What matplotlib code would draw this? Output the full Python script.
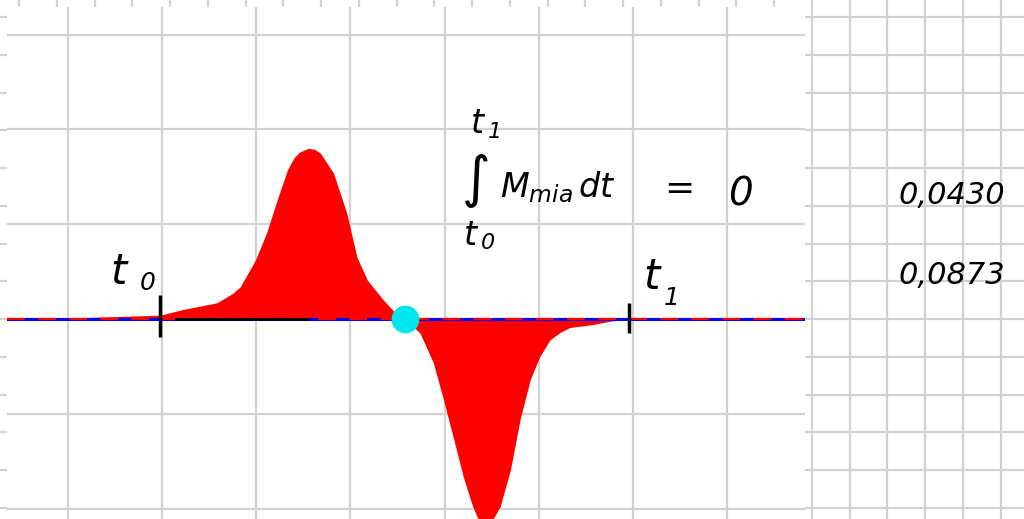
import matplotlib.pyplot as plt

# red series (x and y in chart grid units)
t = [-0.65, 0.0, 0.98, 1.22, 1.58, 1.75, 1.83, 1.99, 2.11, 2.22, 2.33, 2.40, 2.46, 2.55, 2.62,
     2.68, 2.82, 2.96, 3.07, 3.18, 3.35, 3.50, 3.58, 3.74, 3.88, 3.98, 4.09, 4.20, 4.30, 4.36,
     4.43, 4.51, 4.59, 4.70, 4.80, 4.91, 5.01, 5.12, 5.23, 5.33, 5.57, 5.78, 5.96, 7.83]
m = [0.0, 0.01, 0.04, 0.10, 0.17, 0.27, 0.34, 0.62, 0.91, 1.25, 1.57, 1.70, 1.76, 1.80, 1.79,
     1.75, 1.54, 1.12, 0.65, 0.41, 0.20, 0.04, 0.0, -0.15, -0.46, -0.82, -1.24, -1.67, -1.98, -2.12,
     -2.25, -2.12, -1.98, -1.59, -1.07, -0.64, -0.40, -0.22, -0.14, -0.09, -0.06, -0.02, 0.0, 0.0]
zero_line = [0.0, 0.0]
zero_t = [-0.65, 7.83]
t_marks = [0.98, 5.96]
crossing = [3.58]
pen_t = [1.15, 2.55]

fig = plt.figure(figsize=(10.24, 5.19), dpi=100)
W, H = 1024, 519

# spreadsheet cells behind the chart
bg = fig.add_axes([0, 0, 1, 1], zorder=0)
bg.set_xlim(0, W)
bg.set_ylim(H, 0)
bg.set_xticks([19.2 + 37.75 * k for k in range(27)])
bg.set_yticks([17 + 37.75 * k for k in range(14)])
bg.grid(True, color='#d2d2d2', lw=1.6)
bg.tick_params(length=0, labelbottom=False, labelleft=False)
for s in bg.spines.values():
    s.set_visible(False)

# the chart itself
ax = fig.add_axes([7 / W, 0, 798 / W, 512 / H], zorder=1)
ax.set_facecolor('white')
ax.set_xlim(-0.648, 7.829)
ax.set_ylim(-2.11, 3.291)
ax.set_xticks(range(8))
ax.set_yticks(range(-2, 4))
ax.grid(True, color='#d2d2d2', lw=1.6)
ax.set_axisbelow(True)
ax.tick_params(length=0, labelbottom=False, labelleft=False)
for s in ax.spines.values():
    s.set_visible(False)

ax.fill_between(t, m, 0, color='#ff0000', lw=0, zorder=2)
ax.plot(zero_t, zero_line, color='#0000ff', lw=2.2, zorder=3)
ax.plot(zero_t, zero_line, color='#ff0000', lw=1.6, ls=(0, (8, 6)), zorder=4)
ax.plot(pen_t, zero_line, color='black', lw=2.0, zorder=5)
ax.plot(crossing, [0], 'o', color='#00e5ee', ms=20, mec='none', zorder=6)
ax.vlines(t_marks[0], -0.19, 0.25, color='black', lw=2.5, zorder=7)
ax.vlines(t_marks[1], -0.15, 0.17, color='black', lw=2.5, zorder=7)

# hand written notes on top
ov = fig.add_axes([0, 0, 1, 1], zorder=3)
ov.set_xlim(0, W)
ov.set_ylim(H, 0)
ov.axis('off')
ov.patch.set_alpha(0)

hand = dict(color='black', style='italic', ha='left', va='baseline')
ov.text(110, 284, r'$t$', fontsize=30, **hand)
ov.text(140, 290, '0', fontsize=18, **hand)
ov.text(643, 289, r'$t$', fontsize=30, **hand)
ov.text(664, 305, '1', fontsize=18, **hand)
ov.text(470, 133, r'$t$', fontsize=24, **hand)
ov.text(488, 138, '1', fontsize=16, **hand)
ov.text(461, 196, r'$\int$', fontsize=28, **hand)
ov.text(463, 245, r'$t$', fontsize=24, **hand)
ov.text(481, 249, '0', fontsize=16, **hand)
ov.text(500, 197, r'$M_{mia}\,dt$', fontsize=24, **hand)
ov.text(664, 199, '=', fontsize=26, **hand)
ov.text(728, 205, '0', fontsize=28, **hand)
ov.text(898, 204, '0,0430', fontsize=22, **hand)
ov.text(898, 284, '0,0873', fontsize=22, **hand)

fig.savefig('out.png', dpi=100)
